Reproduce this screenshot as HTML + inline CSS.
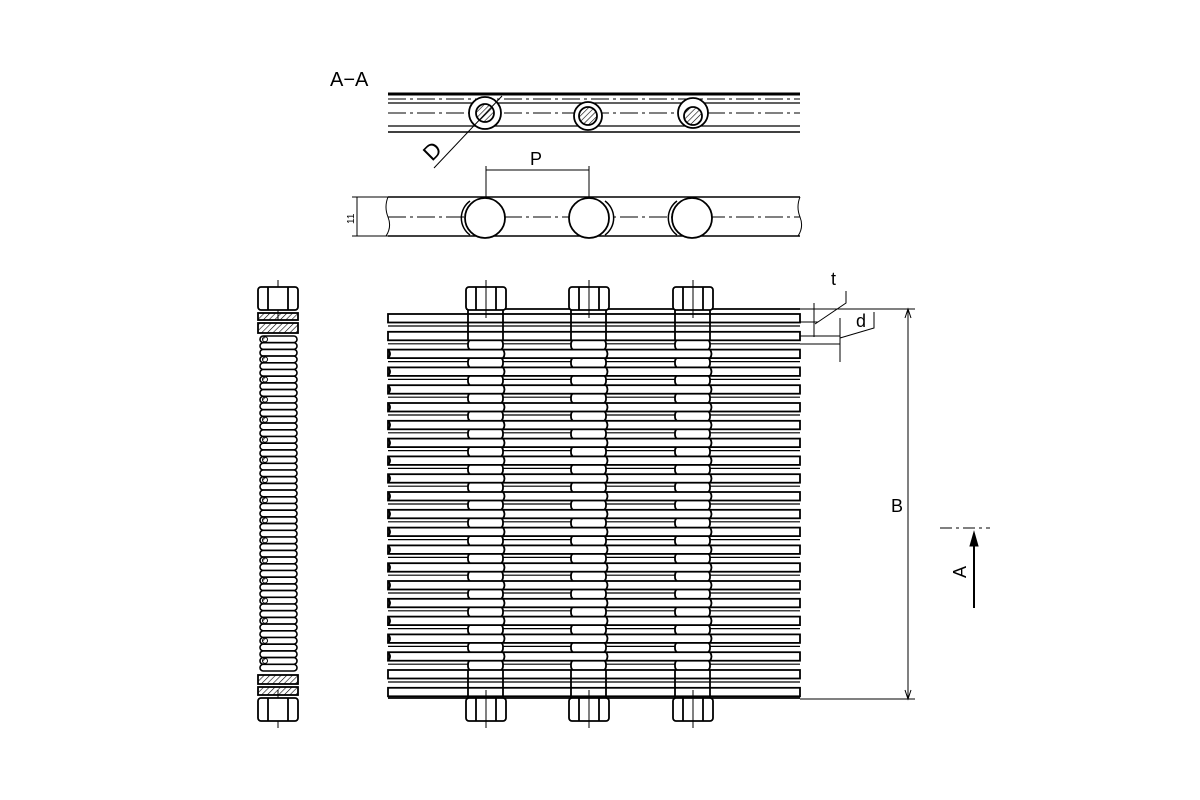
<!DOCTYPE html>
<html><head><meta charset="utf-8"><style>html,body{margin:0;background:#fff}svg{display:block}</style></head>
<body>
<svg width="1200" height="800" viewBox="0 0 1200 800" xmlns="http://www.w3.org/2000/svg" xmlns:xlink="http://www.w3.org/1999/xlink" font-family="Liberation Sans, sans-serif">
<defs>
<pattern id="h" patternUnits="userSpaceOnUse" width="4" height="4" patternTransform="rotate(45)"><line x1="0" y1="0" x2="0" y2="4" stroke="#000" stroke-width="1.2"/></pattern>
<g id="g" fill="#fff" stroke="#000">
<line x1="388" y1="12" x2="800" y2="12" stroke-width="1.2"/>
<rect x="468" y="7" width="35" height="12" rx="5" stroke-width="1.8"/>
<rect x="571" y="7" width="35" height="12" rx="5" stroke-width="1.8"/>
<rect x="675" y="7" width="35" height="12" rx="5" stroke-width="1.8"/>
</g>
<g id="ge" stroke="#000" stroke-width="1.8">
<line x1="388" y1="12" x2="800" y2="12" stroke-width="1.2"/>
<path d="M468 8V18M503 8V18M571 8V18M606 8V18M675 8V18M710 8V18"/>
</g>
<g id="w" fill="#fff" stroke="#000" stroke-width="1.8">
<rect x="388" y="0" width="412" height="8.5"/>
<path d="M388 0q4 4.25 0 8.5M503 0q3 4.25 0 8.5M606 0q3 4.25 0 8.5M710 0q3 4.25 0 8.5" fill="none"/>
</g>
<g id="we" fill="#fff" stroke="#000" stroke-width="1.8">
<rect x="388" y="0" width="412" height="8.5"/>
<path d="M468 0V8.5M503 0V8.5M571 0V8.5M606 0V8.5M675 0V8.5M710 0V8.5"/>
</g>
<g id="bolt" fill="#fff" stroke="#000" stroke-width="1.8">
<rect x="-20" y="0" width="40" height="23" rx="3"/>
<path d="M-10 0V23M10 0V23"/>
</g>
<rect id="c1" x="260" y="0" width="37" height="6.7" rx="3.3" fill="#fff" stroke="#000" stroke-width="1.6"/>
<g id="c2"><rect x="260" y="0" width="37" height="6.7" rx="3.3" fill="#fff" stroke="#000" stroke-width="1.6"/><circle cx="265" cy="3.3" r="2.5" fill="url(#h)" stroke="#000" stroke-width="1"/></g>
</defs>
<g fill="none" stroke="#000">
<text x="330" y="86" font-size="20" fill="#000" stroke="none">A−A</text>
<line x1="388" y1="94" x2="800" y2="94" stroke-width="3"/>
<line x1="388" y1="99" x2="800" y2="99" stroke-width="1" stroke-dasharray="18,4,3,4"/>
<line x1="388" y1="103" x2="800" y2="103" stroke-width="1.2"/>
<line x1="388" y1="113" x2="800" y2="113" stroke-width="1" stroke-dasharray="18,4,3,4"/>
<line x1="388" y1="126" x2="800" y2="126" stroke-width="1.2"/>
<line x1="388" y1="132" x2="800" y2="132" stroke-width="1.5"/>
<g stroke-width="1.8">
<circle cx="485" cy="113" r="16" fill="#fff"/><circle cx="485" cy="113" r="9" fill="url(#h)"/>
<circle cx="588" cy="116" r="14" fill="#fff"/><circle cx="588" cy="116" r="9" fill="url(#h)"/>
<circle cx="693" cy="113" r="15" fill="#fff"/><circle cx="693" cy="116" r="9" fill="url(#h)"/>
</g>
<line x1="434" y1="168" x2="502" y2="96" stroke-width="1"/>
<text x="0" y="0" font-size="22" fill="#000" stroke="none" transform="translate(432,162) rotate(-45)">D</text>
<line x1="388" y1="197" x2="800" y2="197" stroke-width="1.5"/>
<line x1="388" y1="217" x2="800" y2="217" stroke-width="1" stroke-dasharray="18,4,3,4"/>
<line x1="388" y1="236" x2="800" y2="236" stroke-width="1.5"/>
<path d="M388 197 q-4 10 0 20 q4 10 -2 19 M800 197 q-4 10 0 20 q4 10 -2 19" stroke-width="1"/>
<g stroke-width="1.8" fill="#fff">
<circle cx="485" cy="218" r="20"/><circle cx="589" cy="218" r="20"/><circle cx="692" cy="218" r="20"/>
</g>
<path d="M470 235 a21 21 0 0 1 0 -34 M605 201 a21 21 0 0 1 0 34 M677 235 a21 21 0 0 1 0 -34" stroke-width="1.5"/>
<line x1="486" y1="166" x2="486" y2="198" stroke-width="1"/>
<line x1="589" y1="166" x2="589" y2="198" stroke-width="1"/>
<line x1="486" y1="170" x2="589" y2="170" stroke-width="1"/>
<text x="530" y="165" font-size="18" fill="#000" stroke="none">P</text>
<line x1="352" y1="197" x2="390" y2="197" stroke-width="1"/>
<line x1="352" y1="236" x2="390" y2="236" stroke-width="1"/>
<line x1="357" y1="197" x2="357" y2="236" stroke-width="1"/>
<text x="0" y="0" font-size="10" fill="#000" stroke="none" transform="translate(354,224) rotate(-90)">11</text>
<line x1="800" y1="309" x2="915" y2="309" stroke-width="1"/>
<line x1="800" y1="699" x2="915" y2="699" stroke-width="1"/>
<line x1="908" y1="309" x2="908" y2="699" stroke-width="1"/>
<path d="M905 318 L908 309 L911 318 M905 690 L908 699 L911 690" stroke-width="1"/>
<text x="891" y="512" font-size="18" fill="#000" stroke="none">B</text>
<text x="831" y="285" font-size="18" fill="#000" stroke="none">t</text>
<path d="M846 291 V303 L815 324" stroke-width="1"/>
<line x1="814" y1="303" x2="814" y2="337" stroke-width="1"/>
<line x1="800" y1="322" x2="818" y2="322" stroke-width="1"/>
<line x1="800" y1="336" x2="840" y2="336" stroke-width="1"/>
<line x1="800" y1="344" x2="840" y2="344" stroke-width="1"/>
<line x1="840" y1="318" x2="840" y2="362" stroke-width="1"/>
<text x="856" y="327" font-size="18" fill="#000" stroke="none">d</text>
<path d="M874 312 V328 L840 338" stroke-width="1"/>
<line x1="940" y1="528" x2="990" y2="528" stroke-width="1" stroke-dasharray="12,4,3,4"/>
<line x1="974" y1="540" x2="974" y2="608" stroke-width="2"/>
<path d="M970 546 L974 532 L978 546 Z" fill="#000"/>
<text x="0" y="0" font-size="18" fill="#000" stroke="none" transform="translate(966,578) rotate(-90)">A</text>
</g>
<!-- main grid -->
<line x1="466" y1="309" x2="800" y2="309" stroke="#000" stroke-width="1.8"/>
<line x1="388" y1="698" x2="800" y2="698" stroke="#000" stroke-width="1.8"/>
<!-- gaps -->
<use xlink:href="#ge" y="314"/>
<use xlink:href="#g" y="331.8"/>
<use xlink:href="#g" y="349.6"/>
<use xlink:href="#g" y="367.4"/>
<use xlink:href="#g" y="385.2"/>
<use xlink:href="#g" y="403"/>
<use xlink:href="#g" y="420.8"/>
<use xlink:href="#g" y="438.6"/>
<use xlink:href="#g" y="456.4"/>
<use xlink:href="#g" y="474.2"/>
<use xlink:href="#g" y="492"/>
<use xlink:href="#g" y="509.8"/>
<use xlink:href="#g" y="527.6"/>
<use xlink:href="#g" y="545.4"/>
<use xlink:href="#g" y="563.2"/>
<use xlink:href="#g" y="581"/>
<use xlink:href="#g" y="598.8"/>
<use xlink:href="#g" y="616.6"/>
<use xlink:href="#g" y="634.4"/>
<use xlink:href="#g" y="652.2"/>
<use xlink:href="#ge" y="670"/>
<!-- wires -->
<use xlink:href="#we" y="314"/>
<use xlink:href="#we" y="331.8"/>
<use xlink:href="#w" y="349.6"/>
<use xlink:href="#w" y="367.4"/>
<use xlink:href="#w" y="385.2"/>
<use xlink:href="#w" y="403"/>
<use xlink:href="#w" y="420.8"/>
<use xlink:href="#w" y="438.6"/>
<use xlink:href="#w" y="456.4"/>
<use xlink:href="#w" y="474.2"/>
<use xlink:href="#w" y="492"/>
<use xlink:href="#w" y="509.8"/>
<use xlink:href="#w" y="527.6"/>
<use xlink:href="#w" y="545.4"/>
<use xlink:href="#w" y="563.2"/>
<use xlink:href="#w" y="581"/>
<use xlink:href="#w" y="598.8"/>
<use xlink:href="#w" y="616.6"/>
<use xlink:href="#w" y="634.4"/>
<use xlink:href="#w" y="652.2"/>
<use xlink:href="#we" y="670"/>
<use xlink:href="#we" y="687.8"/>
<path d="M468 309V314M503 309V314M571 309V314M606 309V314M675 309V314M710 309V314M468 696V698M503 696V698M571 696V698M606 696V698M675 696V698M710 696V698" stroke="#000" stroke-width="1.8"/>
<use xlink:href="#bolt" x="486" y="287"/>
<use xlink:href="#bolt" x="589" y="287"/>
<use xlink:href="#bolt" x="693" y="287"/>
<use xlink:href="#bolt" x="486" y="698"/>
<use xlink:href="#bolt" x="589" y="698"/>
<use xlink:href="#bolt" x="693" y="698"/>
<path d="M486 280V318M589 280V318M693 280V318M486 690V728M589 690V728M693 690V728M278 280V320M278 690V728" stroke="#000" stroke-width="1"/>
<!-- side view -->
<use xlink:href="#bolt" x="278" y="287"/>
<use xlink:href="#bolt" x="278" y="698"/>
<g stroke="#000" stroke-width="1.8">
<rect x="258" y="313" width="40" height="7" fill="url(#h)"/>
<rect x="258" y="323" width="40" height="10" fill="url(#h)"/>
<rect x="258" y="675" width="40" height="9" fill="url(#h)"/>
<rect x="258" y="687" width="40" height="8" fill="url(#h)"/>
</g>
<use xlink:href="#c2" y="336"/><use xlink:href="#c1" y="342.7"/><use xlink:href="#c1" y="349.4"/>
<use xlink:href="#c2" y="356.1"/><use xlink:href="#c1" y="362.8"/><use xlink:href="#c1" y="369.5"/>
<use xlink:href="#c2" y="376.2"/><use xlink:href="#c1" y="382.9"/><use xlink:href="#c1" y="389.6"/>
<use xlink:href="#c2" y="396.3"/><use xlink:href="#c1" y="403"/><use xlink:href="#c1" y="409.7"/>
<use xlink:href="#c2" y="416.4"/><use xlink:href="#c1" y="423.1"/><use xlink:href="#c1" y="429.8"/>
<use xlink:href="#c2" y="436.5"/><use xlink:href="#c1" y="443.2"/><use xlink:href="#c1" y="449.9"/>
<use xlink:href="#c2" y="456.6"/><use xlink:href="#c1" y="463.3"/><use xlink:href="#c1" y="470"/>
<use xlink:href="#c2" y="476.7"/><use xlink:href="#c1" y="483.4"/><use xlink:href="#c1" y="490.1"/>
<use xlink:href="#c2" y="496.8"/><use xlink:href="#c1" y="503.5"/><use xlink:href="#c1" y="510.2"/>
<use xlink:href="#c2" y="516.9"/><use xlink:href="#c1" y="523.6"/><use xlink:href="#c1" y="530.3"/>
<use xlink:href="#c2" y="537"/><use xlink:href="#c1" y="543.7"/><use xlink:href="#c1" y="550.4"/>
<use xlink:href="#c2" y="557.1"/><use xlink:href="#c1" y="563.8"/><use xlink:href="#c1" y="570.5"/>
<use xlink:href="#c2" y="577.2"/><use xlink:href="#c1" y="583.9"/><use xlink:href="#c1" y="590.6"/>
<use xlink:href="#c2" y="597.3"/><use xlink:href="#c1" y="604"/><use xlink:href="#c1" y="610.7"/>
<use xlink:href="#c2" y="617.4"/><use xlink:href="#c1" y="624.1"/><use xlink:href="#c1" y="630.8"/>
<use xlink:href="#c2" y="637.5"/><use xlink:href="#c1" y="644.2"/><use xlink:href="#c1" y="650.9"/>
<use xlink:href="#c2" y="657.6"/><use xlink:href="#c1" y="664.3"/>
</svg>
</body></html>
